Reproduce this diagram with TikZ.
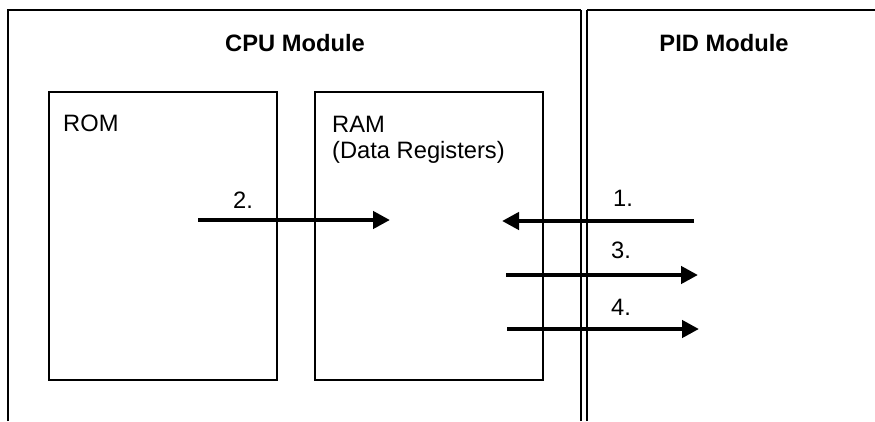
\documentclass[tikz,border=0pt]{standalone}
\usepackage{fontspec}
\setmainfont{Liberation Sans}
\usetikzlibrary{arrows.meta}

\tikzset{frame/.style={line width=1.6pt},
  divider/.style={line width=1.3pt},
  membox/.style={draw,line width=1.6pt,anchor=north west,inner sep=0pt,minimum width=228pt,minimum height=288pt},
  txt/.style={inner sep=0pt,anchor=base west,font=\fontsize{23.7}{26}\selectfont},
  title/.style={inner sep=0pt,anchor=base,font=\fontsize{23.7}{26}\selectfont\bfseries},
  flow/.style={line width=4.3pt,-{Triangle[length=17pt,width=17pt]}}}

\begin{document}
\begin{tikzpicture}[x=1pt,y=-1pt]
\useasboundingbox (0,0) rectangle (875,421);
\draw[frame] (8,421) -- (8,10) -- (581,10); \draw[frame] (587,10) -- (875,10);
\draw[divider] (581,421) -- (581,10); \draw[divider] (587,421) -- (587,10);
\node[title] (cputitle) at (295,51.5) {CPU Module};
\node[title] (pidtitle) at (724,51.5) {PID Module};
\node[membox] (rom) at (48,91) {}; \node[membox] (ram) at (314,91) {};
\node[txt] (romlabel) at (63,131) {ROM};
\node[txt] (ramlabel) at (332,132) {RAM};
\node[txt] (reglabel) at (332,158) {(Data Registers)};
\coordinate (a2s) at (198,220); \coordinate (a2e) at (390,220);
\coordinate (a1s) at (694,221); \coordinate (a1e) at (502,221);
\coordinate (a3s) at (506,275); \coordinate (a3e) at (698,275);
\coordinate (a4s) at (507,329); \coordinate (a4e) at (699,329);
\draw[flow] (a2s) -- (a2e); \draw[flow] (a1s) -- (a1e);
\draw[flow] (a3s) -- (a3e); \draw[flow] (a4s) -- (a4e);
\node[txt] (l2) at (233,208) {2.}; \node[txt] (l1) at (613,206) {1.};
\node[txt] (l3) at (611,258) {3.}; \node[txt] (l4) at (611,315) {4.};
\end{tikzpicture}
\end{document}
